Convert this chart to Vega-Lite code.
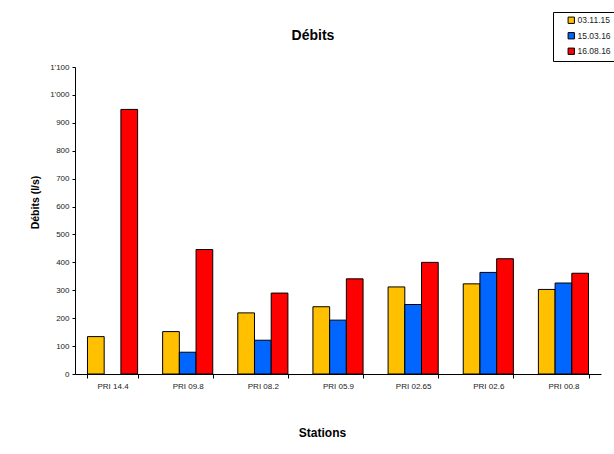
{
  "$schema": "https://vega.github.io/schema/vega-lite/v6.json",
  "autosize": "none",
  "width": 526,
  "height": 307,
  "padding": {"left": 75, "top": 67, "right": 13, "bottom": 80},
  "background": "white",
  "title": {"text": "Débits", "font": "Liberation Sans", "fontSize": 14, "fontWeight": "bold", "color": "black", "dx": -25, "dy": 58, "offset": 20, "baseline": "middle"},
  "data": {"values": [
    {"station": "PRI 14.4", "date": "03.11.15", "debit": 134},
    {"station": "PRI 14.4", "date": "16.08.16", "debit": 948},
    {"station": "PRI 09.8", "date": "03.11.15", "debit": 152},
    {"station": "PRI 09.8", "date": "15.03.16", "debit": 78},
    {"station": "PRI 09.8", "date": "16.08.16", "debit": 446},
    {"station": "PRI 08.2", "date": "03.11.15", "debit": 219},
    {"station": "PRI 08.2", "date": "15.03.16", "debit": 121},
    {"station": "PRI 08.2", "date": "16.08.16", "debit": 290},
    {"station": "PRI 05.9", "date": "03.11.15", "debit": 241},
    {"station": "PRI 05.9", "date": "15.03.16", "debit": 193},
    {"station": "PRI 05.9", "date": "16.08.16", "debit": 341},
    {"station": "PRI 02.65", "date": "03.11.15", "debit": 312},
    {"station": "PRI 02.65", "date": "15.03.16", "debit": 249},
    {"station": "PRI 02.65", "date": "16.08.16", "debit": 400},
    {"station": "PRI 02.6", "date": "03.11.15", "debit": 323},
    {"station": "PRI 02.6", "date": "15.03.16", "debit": 364},
    {"station": "PRI 02.6", "date": "16.08.16", "debit": 413},
    {"station": "PRI 00.8", "date": "03.11.15", "debit": 303},
    {"station": "PRI 00.8", "date": "15.03.16", "debit": 326},
    {"station": "PRI 00.8", "date": "16.08.16", "debit": 361}
  ]},
  "mark": {"type": "bar", "stroke": "black", "strokeWidth": 1},
  "encoding": {
    "x": {
      "field": "station", "type": "nominal", "sort": null,
      "scale": {"paddingInner": 0.333, "paddingOuter": 0.166},
      "axis": {
        "title": "Stations", "titleFont": "Liberation Sans", "titleFontSize": 12, "titleFontWeight": "bold", "titleColor": "black",
        "titleX": 247, "titleY": 58, "titleBaseline": "middle",
        "labelAngle": 0, "labelFont": "Liberation Sans", "labelFontSize": 8, "labelColor": "#222", "labelPadding": 4,
        "tickBand": "extent", "tickSize": 4, "tickColor": "black", "domainColor": "black", "grid": false
      }
    },
    "xOffset": {"field": "date", "type": "nominal", "sort": ["03.11.15", "15.03.16", "16.08.16"]},
    "y": {
      "field": "debit", "type": "quantitative",
      "scale": {"domain": [0, 1100], "nice": false},
      "axis": {
        "title": "Débits (l/s)", "titleFont": "Liberation Sans", "titleFontSize": 10.5, "titleFontWeight": "bold", "titleColor": "black",
        "titleX": -40, "titleY": 135, "titleBaseline": "middle",
        "values": [0, 100, 200, 300, 400, 500, 600, 700, 800, 900, 1000, 1100],
        "labelExpr": "replace(format(datum.value, ','), ',', \"'\")",
        "labelFont": "Liberation Sans", "labelFontSize": 8, "labelColor": "#222", "labelPadding": 3,
        "tickSize": 3, "tickColor": "black", "domainColor": "black", "grid": false
      }
    },
    "color": {
      "field": "date", "type": "nominal",
      "scale": {"domain": ["03.11.15", "15.03.16", "16.08.16"], "range": ["#FFC000", "#0066FF", "#FF0000"]},
      "legend": {
        "title": null, "orient": "none", "legendX": 478, "legendY": -55,
        "strokeColor": "black", "fillColor": "white", "padding": 4,
        "symbolType": "square", "symbolSize": 40, "symbolStrokeColor": "black", "symbolStrokeWidth": 1, "symbolOffset": 10,
        "labelFont": "Liberation Sans", "labelFontSize": 8.5, "labelColor": "#222", "labelOffset": 2, "rowPadding": 4.5
      }
    }
  },
  "config": {"view": {"stroke": null}}
}
